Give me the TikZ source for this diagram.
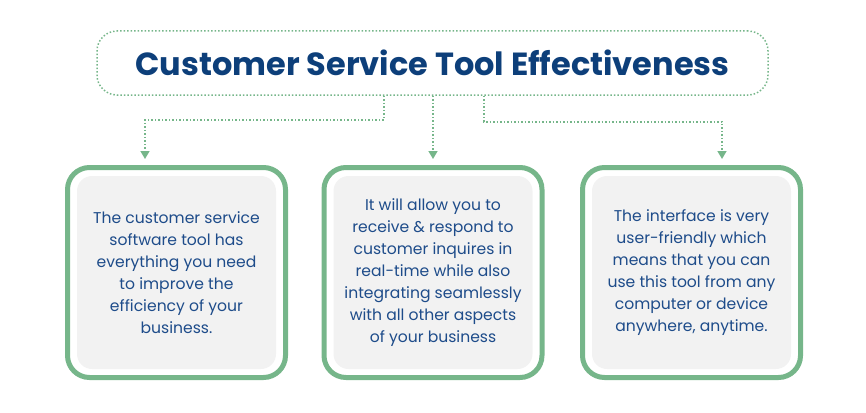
\documentclass[tikz,border=0pt]{standalone}
\usepackage{fontspec}
\setmainfont{Poppins}
\usetikzlibrary{arrows.meta}
\definecolor{titleblue}{HTML}{0D3F7A}
\definecolor{textblue}{HTML}{1E4C8A}
\definecolor{sgreen}{HTML}{76B68A}
\definecolor{lgray}{HTML}{F2F2F2}
\tikzset{
  titlebox/.style={draw=sgreen, dotted, line width=1.5pt, rounded corners=20pt, minimum width=671pt, minimum height=64pt, inner sep=0pt, text=titleblue, font=\fontsize{32}{38}\selectfont\bfseries},
  outerbox/.style={draw=sgreen, line width=5pt, rounded corners=22pt, minimum width=218pt, minimum height=210pt, inner sep=0pt},
  innerbox/.style={fill=lgray, rounded corners=15pt, minimum width=199pt, minimum height=193pt, inner sep=0pt, align=center, text=textblue, font=\fontsize{15.6}{22}\selectfont},
  conn/.style={draw=sgreen, dotted, line width=1.5pt, -{Triangle[width=9pt,length=8pt]}, shorten >=6pt}
}
\begin{document}
\begin{tikzpicture}[x=1pt,y=-1pt]
\useasboundingbox (0,0) rectangle (866,412);
\node[titlebox] (title) at (432.5,63) {Customer Service Tool Effectiveness};
\node[outerbox] (o1) at (176.5,272.5) {};
\node[outerbox] (o2) at (433,272.5) {};
\node[outerbox] (o3) at (691.5,272.5) {};
\node[innerbox] (i1) at (176.5,272.5) {The customer service\\ software tool has\\ everything you need\\ to improve the\\ efficiency of your\\ business.};
\node[innerbox] (i2) at (433,272.5) {It will allow you to\\ receive \& respond to\\ customer inquires in\\ real-time while also\\ integrating seamlessly\\ with all other aspects\\ of your business};
\node[innerbox] (i3) at (691.5,272.5) {The interface is very\\ user-friendly which\\ means that you can\\ use this tool from any\\ computer or device\\ anywhere, anytime.};
\draw[conn] ([xshift=-48.5pt]title.south) -- ++(0,24) -| ([xshift=-31.5pt]o1.north);
\draw[conn] (title.south -| o2.north) -- (o2.north);
\draw[conn] ([xshift=51.5pt]title.south) -- ++(0,26) -| ([xshift=30.5pt]o3.north);
\end{tikzpicture}
\end{document}
